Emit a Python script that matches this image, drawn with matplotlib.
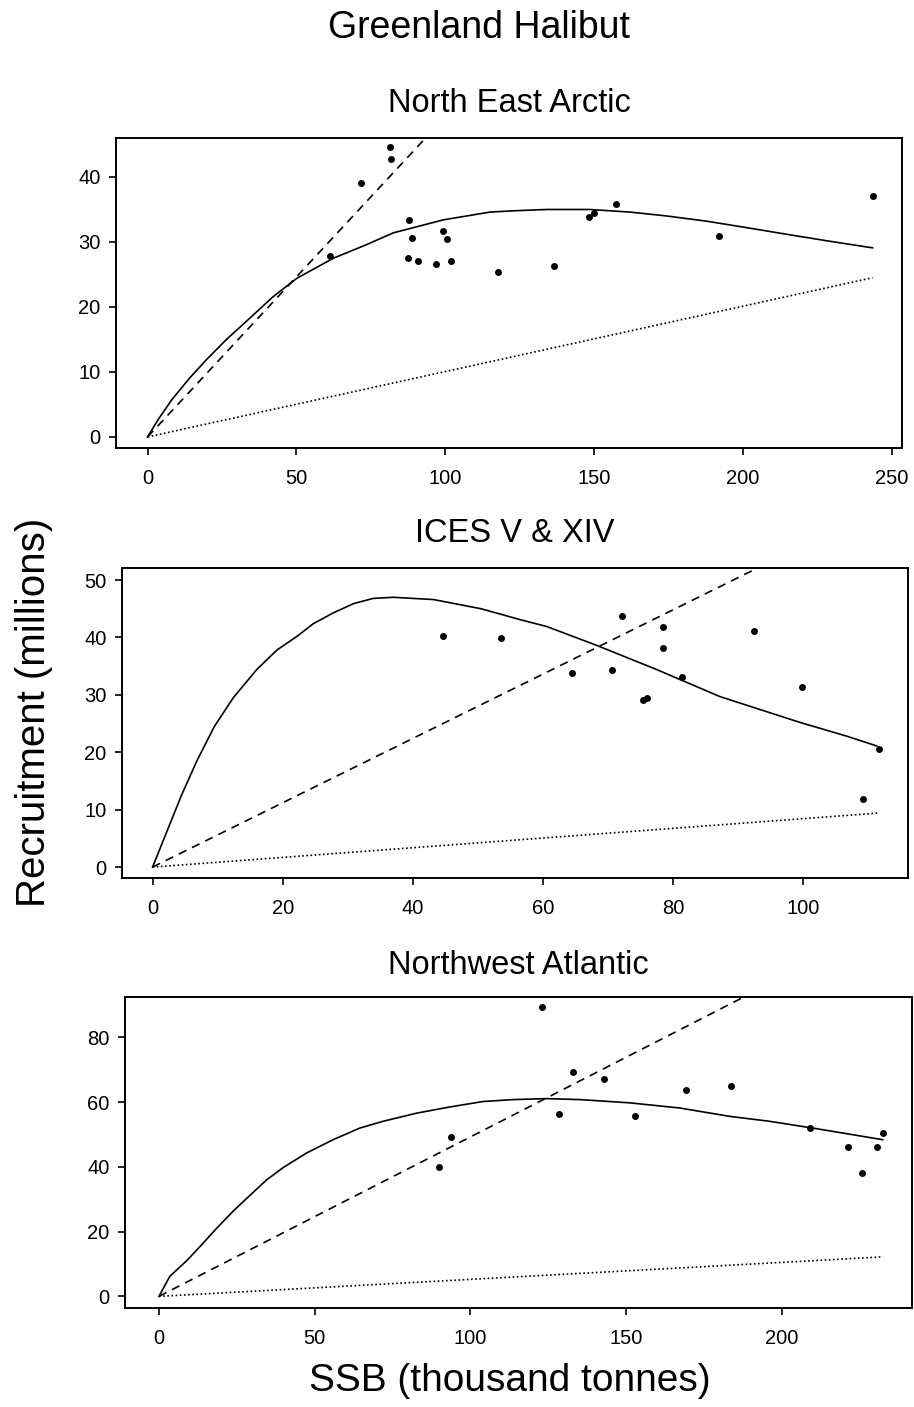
import matplotlib
matplotlib.use("Agg")
import matplotlib.pyplot as plt

plt.rcParams['font.family'] = ['Liberation Sans', 'DejaVu Sans']

# ---------------- data ----------------
# North East Arctic
nea_ssb = [81.3, 81.6, 71.7, 61.2, 87.8, 88.7, 87.6, 90.7, 96.8, 99.2, 100.7, 101.9,
           117.6, 136.5, 148.3, 150.0, 157.5, 192.0, 243.5]
nea_rec = [44.6, 42.7, 39.0, 27.9, 33.4, 30.6, 27.6, 27.1, 26.6, 31.7, 30.4, 27.0,
           25.4, 26.3, 33.8, 34.5, 35.8, 30.9, 37.0]
nea_fit_x = [0, 3.6, 8.1, 14.2, 19.8, 26.5, 34.4, 42.2, 50.1, 62.4, 73.6, 82.5, 99.3,
             115.0, 122.9, 134.1, 148.6, 162.1, 174.4, 187.8, 201.3, 215.8, 229.3, 243.5]
nea_fit_y = [0, 2.7, 5.7, 9.1, 11.9, 15.0, 18.3, 21.6, 24.4, 27.5, 29.6, 31.4, 33.4,
             34.6, 34.8, 35.0, 35.0, 34.6, 34.0, 33.2, 32.2, 31.1, 30.1, 29.1]
nea_dash_x = [0, 94.0]
nea_dash_y = [0, 46.3]
nea_dot_x = [0, 243.5]
nea_dot_y = [0, 24.5]

# ICES V & XIV
ices_ssb = [44.7, 53.6, 64.5, 70.6, 72.2, 75.4, 76.0, 78.5, 78.5, 81.3, 92.5, 99.8, 109.2, 111.6]
ices_rec = [40.2, 39.9, 33.8, 34.4, 43.7, 29.1, 29.5, 41.9, 38.2, 33.2, 41.2, 31.4, 11.8, 20.5]
ices_fit_x = [0, 2.2, 4.4, 6.8, 9.5, 12.4, 16.0, 19.1, 22.2, 24.7, 27.8, 30.9, 33.9, 37.0,
              43.2, 50.5, 56.5, 60.6, 68.3, 77.5, 87.2, 99.5, 106.7, 111.3]
ices_fit_y = [0, 6.2, 12.4, 18.5, 24.5, 29.5, 34.4, 37.8, 40.2, 42.4, 44.3, 45.9, 46.8, 47.0,
              46.6, 45.0, 43.1, 41.9, 38.6, 34.4, 29.7, 25.2, 22.8, 21.1]
ices_dash_x = [0, 93.7]
ices_dash_y = [0, 52.5]
ices_dot_x = [0, 111.4]
ices_dot_y = [0, 9.4]

# Northwest Atlantic
nwa_ssb = [93.7, 89.8, 122.9, 132.8, 128.6, 142.8, 152.8, 169.2, 183.7, 209.2, 221.3,
           225.6, 230.5, 232.5]
nwa_rec = [49.3, 40.1, 89.4, 69.3, 56.5, 67.1, 55.6, 63.9, 65.0, 51.9, 46.2, 38.1, 46.2, 50.6]
nwa_fit_x = [0, 3.5, 8.9, 13.2, 18.5, 23.8, 29.2, 34.6, 39.9, 47.4, 55.9, 64.5, 72.0,
             82.7, 93.3, 104.0, 113.7, 124.4, 135.1, 151.1, 167.2, 183.4, 196.0,
             209.9, 220.6, 232.4]
nwa_fit_y = [0, 6.2, 11.0, 15.4, 21.0, 26.3, 31.2, 36.0, 39.8, 44.3, 48.4, 52.0, 54.1,
             56.6, 58.5, 60.2, 60.8, 61.1, 60.8, 59.8, 58.2, 55.6, 54.1,
             52.0, 50.3, 48.4]
nwa_dash_x = [0, 188.0]
nwa_dash_y = [0, 92.6]
nwa_dot_x = [0, 232.5]
nwa_dot_y = [0, 12.2]

titles = ["North East Arctic", "ICES V & XIV", "Northwest Atlantic"]
xticks = [[0, 50, 100, 150, 200, 250], [0, 20, 40, 60, 80, 100], [0, 50, 100, 150, 200]]
yticks = [[0, 10, 20, 30, 40], [0, 10, 20, 30, 40, 50], [0, 20, 40, 60, 80]]
xlims = [(-10.6, 253.4), (-4.7, 116.1), (-10.9, 241.8)]
ylims = [(-1.7, 46.0), (-1.9, 52.1), (-3.6, 92.5)]

# ---------------- layout ----------------
W, H = 914, 1407
fig = plt.figure(figsize=(W / 100, H / 100), dpi=100)

# pixel boxes: left, right, top, bottom
boxes = [(116, 902, 138, 448), (122, 908, 568, 878), (125, 912, 997, 1308)]
title_y = [103, 534, 965]

panels = [
    (nea_ssb, nea_rec, nea_fit_x, nea_fit_y, nea_dash_x, nea_dash_y, nea_dot_x, nea_dot_y),
    (ices_ssb, ices_rec, ices_fit_x, ices_fit_y, ices_dash_x, ices_dash_y, ices_dot_x, ices_dot_y),
    (nwa_ssb, nwa_rec, nwa_fit_x, nwa_fit_y, nwa_dash_x, nwa_dash_y, nwa_dot_x, nwa_dot_y),
]

for i, (sx, ry, fx, fy, dx, dy, ox, oy) in enumerate(panels):
    l, r, t, b = boxes[i]
    ax = fig.add_axes([l / W, 1 - b / H, (r - l) / W, (b - t) / H])
    ax.plot(fx, fy, color='black', lw=1.2, solid_joinstyle='round')
    ax.plot(dx, dy, color='black', lw=1.2, dashes=(5, 3.8))
    ax.plot(ox, oy, color='black', lw=1.2, dashes=(1, 1.5))
    ax.plot(sx, ry, 'o', color='black', markersize=5.0, markeredgewidth=0)
    ax.set_xlim(*xlims[i])
    ax.set_ylim(*ylims[i])
    ax.set_xticks(xticks[i])
    ax.set_yticks(yticks[i])
    ax.tick_params(direction='out', length=5, width=1.2, labelsize=14.5, colors='black')
    ax.tick_params(axis='x', pad=10)
    ax.tick_params(axis='y', pad=6)
    for s in ax.spines.values():
        s.set_linewidth(1.4)
    fig.text(((l + r) / 2) / W, 1 - title_y[i] / H, titles[i], ha='center', va='center',
             fontsize=23.5)

fig.text(479 / W, 1 - 28 / H, "Greenland Halibut", ha='center', va='center', fontsize=27)
fig.text(34 / W, 1 - 712 / H, "Recruitment (millions)", ha='center', va='center',
         rotation=90, fontsize=29)
fig.text(510 / W, 1 - 1381 / H, "SSB (thousand tonnes)", ha='center', va='center',
         fontsize=28)

fig.savefig("out.png", dpi=100)
